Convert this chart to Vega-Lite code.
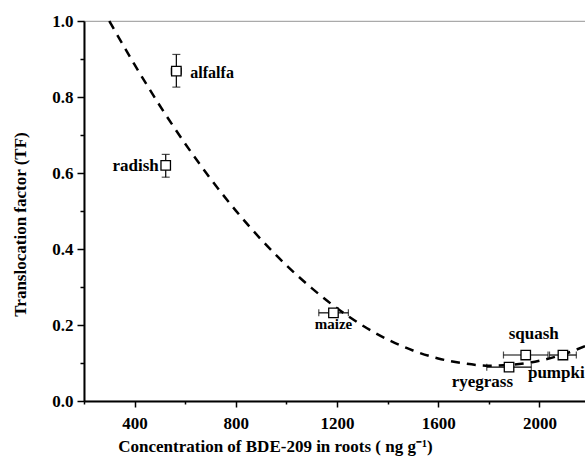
{
  "$schema": "https://vega.github.io/schema/vega-lite/v6.json",
  "width": 506,
  "height": 380,
  "autosize": "none",
  "padding": {"left": 84, "top": 21, "right": 10, "bottom": 62},
  "background": "white",
  "config": {
    "view": {"stroke": "#aaaaaa", "strokeWidth": 1.2},
    "font": "Liberation Serif",
    "axis": {
      "grid": false,
      "domainColor": "black",
      "domainWidth": 2,
      "tickColor": "black",
      "tickWidth": 1.5,
      "labelFont": "Liberation Serif",
      "labelFontWeight": "bold",
      "labelFontSize": 17,
      "labelColor": "black",
      "titleFont": "Liberation Serif",
      "titleFontWeight": "bold",
      "titleFontSize": 16,
      "titleColor": "black"
    }
  },
  "datasets": {
    "pts": [
      {"plant": "alfalfa", "conc": 565, "tf": 0.868, "conc_lo": 545, "conc_hi": 585, "tf_lo": 0.826, "tf_hi": 0.912},
      {"plant": "radish", "conc": 523, "tf": 0.620, "conc_lo": 508, "conc_hi": 538, "tf_lo": 0.589, "tf_hi": 0.649},
      {"plant": "maize", "conc": 1186, "tf": 0.232, "conc_lo": 1128, "conc_hi": 1245, "tf_lo": 0.225, "tf_hi": 0.239},
      {"plant": "squash", "conc": 1946, "tf": 0.121, "conc_lo": 1858, "conc_hi": 2034, "tf_lo": 0.112, "tf_hi": 0.130},
      {"plant": "pumpkin", "conc": 2093, "tf": 0.121, "conc_lo": 2040, "conc_hi": 2146, "tf_lo": 0.112, "tf_hi": 0.130},
      {"plant": "ryegrass", "conc": 1880, "tf": 0.089, "conc_lo": 1792, "conc_hi": 1968, "tf_lo": 0.080, "tf_hi": 0.098}
    ],
    "fit": [
      {"conc": 300, "tf": 1.000},
      {"conc": 400, "tf": 0.885},
      {"conc": 500, "tf": 0.777},
      {"conc": 600, "tf": 0.677},
      {"conc": 700, "tf": 0.585},
      {"conc": 800, "tf": 0.501},
      {"conc": 900, "tf": 0.425},
      {"conc": 1000, "tf": 0.357},
      {"conc": 1100, "tf": 0.297},
      {"conc": 1200, "tf": 0.244},
      {"conc": 1300, "tf": 0.199},
      {"conc": 1400, "tf": 0.162},
      {"conc": 1500, "tf": 0.133},
      {"conc": 1600, "tf": 0.112},
      {"conc": 1700, "tf": 0.099},
      {"conc": 1800, "tf": 0.093},
      {"conc": 1900, "tf": 0.096},
      {"conc": 2000, "tf": 0.106},
      {"conc": 2100, "tf": 0.124},
      {"conc": 2200, "tf": 0.150}
    ]
  },
  "encoding": {
    "x": {
      "field": "conc", "type": "quantitative",
      "scale": {"domain": [200, 2200], "nice": false, "zero": false},
      "axis": {
        "values": [200, 400, 600, 800, 1000, 1200, 1400, 1600, 1800, 2000, 2200],
        "labelExpr": "datum.value % 400 === 0 ? datum.label : ''",
        "format": "d",
        "tickSize": {"condition": {"test": "datum.value % 400 === 0", "value": 6}, "value": 3},
        "labelPadding": 8,
        "title": "Concentration of BDE-209 in roots ( ng g⁻¹)",
        "titleFontSize": 17,
        "titleX": 191,
        "titleY": 37,
        "titleAlign": "center",
        "titleAnchor": "start"
      }
    },
    "y": {
      "field": "tf", "type": "quantitative",
      "scale": {"domain": [0, 1], "nice": false},
      "axis": {
        "values": [0, 0.1, 0.2, 0.3, 0.4, 0.5, 0.6, 0.7, 0.8, 0.9, 1.0],
        "labelExpr": "round(datum.value * 10) % 2 === 0 ? datum.label : ''",
        "format": ".1f",
        "tickSize": {"condition": {"test": "round(datum.value * 10) % 2 === 0", "value": 7}, "value": 4},
        "labelPadding": 4,
        "title": "Translocation factor (TF)",
        "titleFontSize": 17,
        "titleX": -55,
        "titleY": 203,
        "titleAnchor": "start",
        "titleAlign": "center"
      }
    }
  },
  "layer": [
    {
      "data": {"name": "fit"},
      "mark": {"type": "line", "color": "black", "strokeWidth": 2.5, "strokeDash": [9, 7], "interpolate": "monotone"}
    },
    {
      "data": {"name": "pts"},
      "mark": {"type": "rule", "color": "black", "strokeWidth": 1.2},
      "encoding": {"x": {"field": "conc_lo", "type": "quantitative"}, "x2": {"field": "conc_hi"}}
    },
    {
      "data": {"name": "pts"},
      "mark": {"type": "rule", "color": "black", "strokeWidth": 1.2},
      "encoding": {"y": {"field": "tf_lo", "type": "quantitative"}, "y2": {"field": "tf_hi"}}
    },
    {
      "data": {"name": "pts"},
      "mark": {"type": "tick", "color": "black", "orient": "vertical", "size": 7, "thickness": 1.2},
      "encoding": {"x": {"field": "conc_lo", "type": "quantitative"}}
    },
    {
      "data": {"name": "pts"},
      "mark": {"type": "tick", "color": "black", "orient": "vertical", "size": 7, "thickness": 1.2},
      "encoding": {"x": {"field": "conc_hi", "type": "quantitative"}}
    },
    {
      "data": {"name": "pts"},
      "mark": {"type": "tick", "color": "black", "orient": "horizontal", "size": 8, "thickness": 1.2},
      "encoding": {"y": {"field": "tf_lo", "type": "quantitative"}}
    },
    {
      "data": {"name": "pts"},
      "mark": {"type": "tick", "color": "black", "orient": "horizontal", "size": 8, "thickness": 1.2},
      "encoding": {"y": {"field": "tf_hi", "type": "quantitative"}}
    },
    {
      "data": {"name": "pts"},
      "mark": {"type": "square", "size": 90, "filled": false, "fill": "white", "fillOpacity": 1, "stroke": "black", "strokeWidth": 1.3, "opacity": 1}
    },
    {
      "data": {"name": "pts"},
      "transform": [{"filter": "datum.plant === 'alfalfa'"}],
      "mark": {"type": "text", "align": "left", "baseline": "middle", "dx": 14, "dy": 2, "fontSize": 16, "fontWeight": "bold", "font": "Liberation Serif", "color": "black"},
      "encoding": {"text": {"field": "plant"}}
    },
    {
      "data": {"name": "pts"},
      "transform": [{"filter": "datum.plant === 'radish'"}],
      "mark": {"type": "text", "align": "right", "baseline": "middle", "dx": -7, "dy": 1, "fontSize": 17, "fontWeight": "bold", "font": "Liberation Serif", "color": "black"},
      "encoding": {"text": {"field": "plant"}}
    },
    {
      "data": {"name": "pts"},
      "transform": [{"filter": "datum.plant === 'maize'"}],
      "mark": {"type": "text", "align": "center", "baseline": "alphabetic", "dx": 0, "dy": 16, "fontSize": 15, "fontWeight": "bold", "font": "Liberation Serif", "color": "black"},
      "encoding": {"text": {"field": "plant"}}
    },
    {
      "data": {"name": "pts"},
      "transform": [{"filter": "datum.plant === 'squash'"}],
      "mark": {"type": "text", "align": "center", "baseline": "alphabetic", "dx": 8, "dy": -16, "fontSize": 17, "fontWeight": "bold", "font": "Liberation Serif", "color": "black"},
      "encoding": {"text": {"field": "plant"}}
    },
    {
      "data": {"name": "pts"},
      "transform": [{"filter": "datum.plant === 'ryegrass'"}],
      "mark": {"type": "text", "align": "right", "baseline": "alphabetic", "dx": 4, "dy": 20, "fontSize": 17, "fontWeight": "bold", "font": "Liberation Serif", "color": "black"},
      "encoding": {"text": {"field": "plant"}}
    },
    {
      "data": {"name": "pts"},
      "transform": [{"filter": "datum.plant === 'pumpkin'"}],
      "mark": {"type": "text", "align": "left", "baseline": "alphabetic", "dx": -35, "dy": 23, "fontSize": 17, "fontWeight": "bold", "font": "Liberation Serif", "color": "black"},
      "encoding": {"text": {"field": "plant"}}
    }
  ]
}
